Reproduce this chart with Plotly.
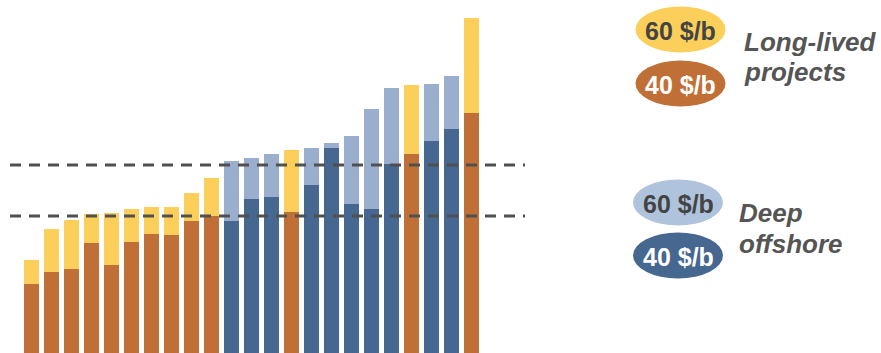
import plotly.graph_objects as go

# project type per bar: L = long-lived projects, D = deep offshore
project_type = ["L", "L", "L", "L", "L", "L", "L", "L", "L", "L", "D", "D",
                "D", "L", "D", "D", "D", "D", "D", "L", "D", "D", "L"]
# value at 40 $/b
value_40 = [69, 81, 84, 110, 88, 111, 119, 118, 132, 137, 132, 154,
            156, 141, 168, 205, 149, 144, 189, 199, 212, 224, 240]
# value at 60 $/b (total bar height)
value_60 = [93, 124, 133, 139, 140, 144, 146, 146, 160, 175, 192, 195,
            199, 203, 205, 210, 217, 244, 265, 268, 269, 277, 335]
# reference levels (dashed lines)
ref_levels = [188, 137]

legend_groups = [["Long-lived", "projects"], ["Deep", "offshore"]]
price_labels = ["60 $/b", "40 $/b"]

ORANGE = "#C07036"
YELLOW = "#FBCF5A"
DBLUE = "#46678F"
LBLUE = "#9AAFCD"
LBLUE_LEG = "#AFC3DC"
FONT = "Liberation Sans, Arial, sans-serif"

x = list(range(len(project_type)))
inc = [b - a for a, b in zip(value_40, value_60)]

def pick(vals, t):
    return [v if p == t else None for v, p in zip(vals, project_type)]

fig = go.Figure()
fig.add_bar(x=x, y=pick(value_40, "L"), marker_color=ORANGE, width=0.75)
fig.add_bar(x=x, y=pick(value_40, "D"), marker_color=DBLUE, width=0.75)
fig.add_bar(x=x, y=pick(inc, "L"), marker_color=YELLOW, width=0.75)
fig.add_bar(x=x, y=pick(inc, "D"), marker_color=LBLUE, width=0.75)
for t in fig.data:
    t.marker.line.width = 0
    t.hoverinfo = "skip"

shapes = []
for lv in ref_levels:
    shapes.append(dict(type="line", xref="x", yref="y", x0=-1.075, x1=24.675,
                       y0=lv, y1=lv, layer="above",
                       line=dict(color="#505050", width=2.8, dash="11px,8px")))

W, H = 881, 353
def px(xp):
    return xp / W
def py(yp):
    return 1 - yp / H

ellipses = [
    (680.5, 29.5, YELLOW, "#444444", price_labels[0]),
    (680.5, 83.5, ORANGE, "#FFFFFF", price_labels[1]),
    (678, 202.5, LBLUE_LEG, "#444444", price_labels[0]),
    (678, 255.5, DBLUE, "#FFFFFF", price_labels[1]),
]
annotations = []
for cx, cy, fill, tc, lab in ellipses:
    shapes.append(dict(type="circle", xref="paper", yref="paper",
                       x0=px(cx - 45), x1=px(cx + 45), y0=py(cy + 23), y1=py(cy - 23),
                       fillcolor=fill, line=dict(width=0), layer="above"))
    annotations.append(dict(xref="paper", yref="paper", x=px(cx), y=py(cy + 1),
                            text="<b>" + lab + "</b>", showarrow=False,
                            xanchor="center", yanchor="middle",
                            font=dict(family=FONT, size=25, color=tc)))

group_pos = [(742, 42, 72), (737, 213, 244)]
for (gx, y1, y2), lines in zip(group_pos, legend_groups):
    for yy, line in zip((y1, y2), lines):
        annotations.append(dict(xref="paper", yref="paper", x=px(gx), y=py(yy),
                                text="<b><i>" + line + "</i></b>", showarrow=False,
                                xanchor="left", yanchor="middle", align="left",
                                font=dict(family=FONT, size=26, color="#555555")))

fig.update_layout(
    width=W, height=H, barmode="stack", bargap=0.25,
    margin=dict(l=0, r=0, t=0, b=0),
    paper_bgcolor="white", plot_bgcolor="white",
    showlegend=False,
    xaxis=dict(range=[-31.5 / 20, (W - 31.5) / 20], visible=False, fixedrange=True),
    yaxis=dict(range=[0, H], visible=False, fixedrange=True),
    shapes=shapes, annotations=annotations,
)

fig.write_html("out.html", config={"displayModeBar": False})
